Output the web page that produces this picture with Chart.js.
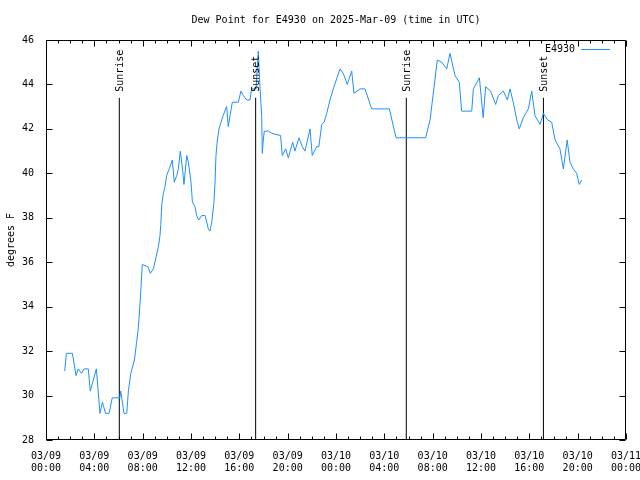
<!DOCTYPE html>
<html>
<head>
<meta charset="utf-8">
<script src="https://cdn.jsdelivr.net/npm/chart.js@4.4.1/dist/chart.umd.min.js"></script>
<style>
  html, body { margin: 0; padding: 0; background: #fff; }
  #dewChart { display: block; }
</style>
</head>
<body>
<canvas id="dewChart" width="640" height="480"></canvas>
<script>
// DATA (times are UTC, "MM/DD HH:MM")
const stationName = 'E4930';
const chartTitle = 'Dew Point for E4930 on 2025-Mar-09 (time in UTC)';
const yTitle = 'degrees F';

const obsTimes = [
  '03/09 01:33', '03/09 01:41', '03/09 02:11', '03/09 02:29', '03/09 02:40', '03/09 02:57',
  '03/09 03:09', '03/09 03:30', '03/09 03:40', '03/09 04:10', '03/09 04:28', '03/09 04:40',
  '03/09 04:56', '03/09 05:13', '03/09 05:29', '03/09 06:07', '03/09 06:11', '03/09 06:27',
  '03/09 06:41', '03/09 06:49', '03/09 07:01', '03/09 07:19', '03/09 07:30', '03/09 07:38',
  '03/09 07:48', '03/09 07:52', '03/09 07:58', '03/09 08:26', '03/09 08:38', '03/09 08:53',
  '03/09 09:06', '03/09 09:18', '03/09 09:26', '03/09 09:30', '03/09 09:35', '03/09 09:43',
  '03/09 09:51', '03/09 09:59', '03/09 10:12', '03/09 10:27', '03/09 10:37', '03/09 10:49',
  '03/09 10:57', '03/09 11:07', '03/09 11:19', '03/09 11:25', '03/09 11:39', '03/09 11:47',
  '03/09 12:00', '03/09 12:07', '03/09 12:20', '03/09 12:28', '03/09 12:38', '03/09 12:53',
  '03/09 13:10', '03/09 13:26', '03/09 13:34', '03/09 13:43', '03/09 13:54', '03/09 13:59',
  '03/09 14:04', '03/09 14:11', '03/09 14:19', '03/09 14:29', '03/09 14:40', '03/09 14:52',
  '03/09 14:57', '03/09 15:05', '03/09 15:14', '03/09 15:25', '03/09 15:55', '03/09 16:08',
  '03/09 16:20', '03/09 16:37', '03/09 16:53', '03/09 17:01', '03/09 17:18', '03/09 17:23',
  '03/09 17:34', '03/09 17:43', '03/09 17:51', '03/09 17:54', '03/09 17:59', '03/09 18:04',
  '03/09 18:24', '03/09 18:41', '03/09 19:25', '03/09 19:33', '03/09 19:50', '03/09 20:03',
  '03/09 20:25', '03/09 20:36', '03/09 20:56', '03/09 21:13', '03/09 21:26', '03/09 21:51',
  '03/09 22:02', '03/09 22:24', '03/09 22:35', '03/09 22:49', '03/09 23:01', '03/09 23:14',
  '03/09 23:30', '03/09 23:50', '03/10 00:20', '03/10 00:36', '03/10 00:56', '03/10 01:18',
  '03/10 01:29', '03/10 01:59', '03/10 02:24', '03/10 02:57', '03/10 04:25', '03/10 04:58',
  '03/10 07:25', '03/10 07:47', '03/10 08:23', '03/10 08:45', '03/10 09:10', '03/10 09:26',
  '03/10 09:51', '03/10 10:12', '03/10 10:24', '03/10 11:14', '03/10 11:22', '03/10 11:52',
  '03/10 12:11', '03/10 12:23', '03/10 12:48', '03/10 13:13', '03/10 13:26', '03/10 13:51',
  '03/10 14:11', '03/10 14:24', '03/10 14:40', '03/10 15:00', '03/10 15:10', '03/10 15:30',
  '03/10 15:55', '03/10 16:12', '03/10 16:28', '03/10 16:53', '03/10 17:10', '03/10 17:31',
  '03/10 17:51', '03/10 18:08', '03/10 18:32', '03/10 18:49', '03/10 19:08', '03/10 19:22',
  '03/10 19:38', '03/10 19:55', '03/10 20:08', '03/10 20:20'
];

const dewPoint = [
  31.1, 31.9, 31.9, 30.9, 31.2, 31.0,
  31.2, 31.2, 30.2, 31.2, 29.2, 29.7,
  29.2, 29.2, 29.9, 29.9, 30.2, 29.2,
  29.2, 30.2, 31.0, 31.6, 32.4, 33.0,
  34.3, 34.9, 35.9, 35.8, 35.5, 35.7,
  36.2, 36.7, 37.2, 37.7, 38.6, 39.1,
  39.4, 39.9, 40.2, 40.6, 39.6, 39.9,
  40.2, 41.0, 40.1, 39.5, 40.8, 40.5,
  39.6, 38.7, 38.5, 38.1, 37.9, 38.1,
  38.1, 37.5, 37.4, 37.8, 38.7, 39.5,
  40.8, 41.5, 42.0, 42.3, 42.6, 42.9,
  43.0, 42.1, 42.6, 43.2, 43.2, 43.7,
  43.5, 43.3, 43.3, 43.8, 43.8, 43.8,
  45.5, 43.8, 42.6, 40.9, 41.5, 41.9,
  41.9, 41.8, 41.7, 40.8, 41.1, 40.7,
  41.4, 41.0, 41.6, 41.2, 41.0, 42.0,
  40.8, 41.2, 41.2, 42.2, 42.3, 42.7,
  43.3, 43.9, 44.7, 44.5, 44.0, 44.6,
  43.6, 43.8, 43.8, 42.9, 42.9, 41.6,
  41.6, 42.4, 45.1, 45.0, 44.7, 45.4,
  44.4, 44.1, 42.8, 42.8, 43.8, 44.3,
  42.5, 43.9, 43.7, 43.1, 43.5, 43.7,
  43.3, 43.8, 43.2, 42.3, 42.0, 42.5,
  42.9, 43.7, 42.6, 42.2, 42.7, 42.4,
  42.3, 41.5, 41.1, 40.2, 41.5, 40.5,
  40.2, 40.0, 39.5, 39.7
];

const sunTimes = ['03/09 06:04', '03/09 17:21', '03/10 05:49', '03/10 17:10'];
const sunLabels = ['Sunrise', 'Sunset', 'Sunrise', 'Sunset'];
const sunLineTop = 43.4;

const yMin = 28, yMax = 46, yStep = 2;
const xStartDay = 9, xHours = 48, xStep = 4;

// hours since 03/09 00:00
function toHours(s) {
  const day = parseInt(s.slice(3, 5), 10);
  const hh = parseInt(s.slice(6, 8), 10);
  const mm = parseInt(s.slice(9, 11), 10);
  return (day - xStartDay) * 24 + hh + mm / 60;
}
function pad(n) { return (n < 10 ? '0' : '') + n; }

const FONT = { family: 'DejaVu Sans Mono', size: 10 };
const LINE_BLUE = '#1e8fff';

const dewData = obsTimes.map((t, i) => ({ x: toHours(t), y: dewPoint[i] }));

const sunSets = sunTimes.map((t, i) => ({
  label: sunLabels[i],
  data: [{ x: toHours(t), y: yMin }, { x: toHours(t), y: sunLineTop }],
  borderColor: '#000',
  borderWidth: 1,
  pointRadius: 0,
  tension: 0
}));

// frame, inward ticks, title, legend, sun labels (gnuplot look)
const gnuplotDecor = {
  id: 'gnuplotDecor',
  beforeDatasetsDraw(chart) {
    const c = chart.ctx;
    const a = chart.chartArea;
    const xs = chart.scales.x, ys = chart.scales.y;
    const L = Math.round(a.left) + 0.5, R = Math.round(a.right) - 0.5;
    const T = Math.round(a.top) + 0.5, B = Math.round(a.bottom) - 0.5;
    c.save();
    c.strokeStyle = '#000';
    c.lineWidth = 1;
    c.beginPath();
    c.rect(L, T, R - L, B - T);
    for (let h = 0; h <= xHours; h++) {
      const px = Math.round(xs.getPixelForValue(h)) + 0.5;
      const len = h % xStep === 0 ? 6 : 3;
      c.moveTo(px, B); c.lineTo(px, B - len);
      c.moveTo(px, T); c.lineTo(px, T + len);
    }
    for (let v = yMin; v <= yMax; v += yStep) {
      const py = Math.round(ys.getPixelForValue(v)) + 0.5;
      c.moveTo(L, py); c.lineTo(L + 6, py);
      c.moveTo(R, py); c.lineTo(R - 6, py);
    }
    c.stroke();
    c.restore();
  },
  afterDraw(chart) {
    const c = chart.ctx;
    const a = chart.chartArea;
    const xs = chart.scales.x, ys = chart.scales.y;
    c.save();
    c.fillStyle = '#000';
    c.font = FONT.size + 'px "' + FONT.family + '"';
    c.textBaseline = 'middle';

    c.textAlign = 'center';
    c.fillText(chartTitle, (a.left + a.right) / 2, 20);

    // y axis title
    c.save();
    c.translate(11, (a.top + a.bottom) / 2);
    c.rotate(-Math.PI / 2);
    c.fillText(yTitle, 0, 0);
    c.restore();

    // sunrise / sunset labels
    sunTimes.forEach((t, i) => {
      const px = xs.getPixelForValue(toHours(t));
      c.save();
      c.translate(px + 1, ys.getPixelForValue(sunLineTop) - 6);
      c.rotate(-Math.PI / 2);
      c.textAlign = 'left';
      c.fillText(sunLabels[i], 0, 0);
      c.restore();
    });

    // legend, top right inside the plot
    c.textAlign = 'right';
    c.fillText(stationName, a.right - 51, a.top + 9);
    c.strokeStyle = LINE_BLUE;
    c.lineWidth = 1;
    c.beginPath();
    c.moveTo(a.right - 45, a.top + 9.5);
    c.lineTo(a.right - 16, a.top + 9.5);
    c.stroke();
    c.restore();
  }
};

new Chart(document.getElementById('dewChart').getContext('2d'), {
  type: 'line',
  data: {
    datasets: [{
      label: stationName,
      data: dewData,
      borderColor: LINE_BLUE,
      borderWidth: 1,
      pointRadius: 0,
      tension: 0,
      fill: false
    }].concat(sunSets)
  },
  options: {
    responsive: false,
    animation: false,
    events: [],
    layout: { padding: { top: 40, right: 14, bottom: 0, left: 0 } },
    plugins: {
      legend: { display: false },
      title: { display: false },
      tooltip: { enabled: false }
    },
    scales: {
      x: {
        type: 'linear',
        min: 0,
        max: xHours,
        grid: { display: false, drawTicks: false },
        border: { display: false },
        ticks: {
          stepSize: xStep,
          autoSkip: false,
          maxRotation: 0,
          padding: 10,
          color: '#000',
          font: FONT,
          callback: (v) => {
            const day = xStartDay + Math.floor(v / 24);
            return ['03/' + pad(day), pad(v % 24) + ':00'];
          }
        },
        afterFit: (s) => { s.height = 40; s.paddingLeft = 0; s.paddingRight = 0; }
      },
      y: {
        min: yMin,
        max: yMax,
        grid: { display: false, drawTicks: false },
        border: { display: false },
        ticks: {
          stepSize: yStep,
          padding: 12,
          color: '#000',
          font: FONT
        },
        afterFit: (s) => { s.width = 46; s.paddingTop = 0; s.paddingBottom = 0; }
      }
    }
  },
  plugins: [gnuplotDecor]
});
</script>
</body>
</html>
